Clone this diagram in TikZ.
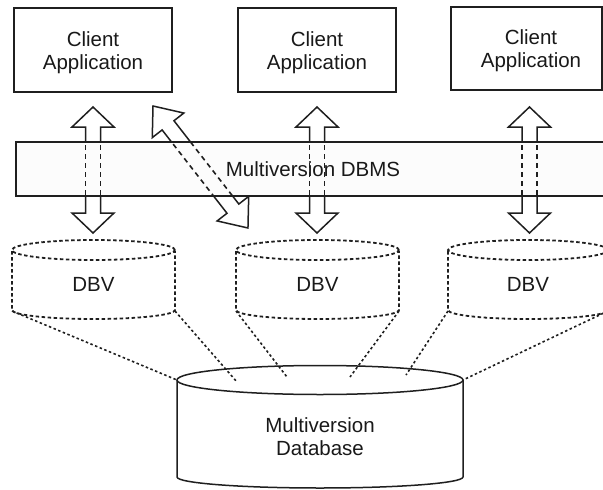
\documentclass[tikz,border=0pt]{standalone}
\usepackage{fontspec}
\setmainfont{Liberation Sans}
\tikzset{
  lw/.style={line width=1.5pt, draw=black!88},
  appbox/.style={lw, rectangle, fill=white, inner sep=0pt},
  lbl/.style={font=\fontsize{20.5}{23}\selectfont, align=center, text=black!90, inner sep=0pt},
  dbvline/.style={line width=1.8pt, draw=black!88, dash pattern=on 3.5pt off 2.5pt},
  linkline/.style={line width=1.6pt, draw=black!88, dash pattern=on 2.5pt off 2.5pt},
  hiddenline/.style={line width=1.6pt, draw=black!88, dash pattern=on 5pt off 4pt},
  pics/dblarrow/.style n args={4}{code={
    \draw[lw, fill=white] (0,0) -- (#3,#2) -- (#4,#2) -- (#4,#1-#2) -- (#3,#1-#2) -- (0,#1)
      -- (-#3,#1-#2) -- (-#4,#1-#2) -- (-#4,#2) -- (-#3,#2) -- cycle;
  }},
  pics/dblshaft/.style n args={4}{code={
    \draw[hiddenline] (#4,#2) -- (#4,#1-#2);
    \draw[hiddenline] (-#4,#2) -- (-#4,#1-#2);
  }},
}
\begin{document}
\begin{tikzpicture}[x=1pt,y=-1pt]
\useasboundingbox (0,0) rectangle (603,490);
\clip (0,0) rectangle (603,490);

% big cylinder
\draw[lw, fill=white] (177,380) -- (177,477) arc[start angle=180, end angle=360, x radius=143pt, y radius=11pt] -- (463,380);
\draw[lw] (320,380) ellipse[x radius=143pt, y radius=14.5pt];
\node[lbl] (mdb) at (320,437) {Multiversion\\Database};
\coordinate (mL) at (177,380);
\coordinate (mR) at (463,380);
\coordinate (m2) at (237,382);
\coordinate (m3) at (287,377);
\coordinate (m4) at (350,377);
\coordinate (m5) at (406,375);

% DBV cylinders
\draw[dbvline] (93.5,250) ellipse[x radius=81.5pt, y radius=10pt];
\draw[dbvline] (12,251) -- (12,310) arc[start angle=180, end angle=360, x radius=81.5pt, y radius=9pt] -- (175,251);
\node[lbl] (dbv1) at (93.5,284.6) {DBV};
\coordinate (d1l) at (12,311);
\coordinate (d1r) at (175,311);

\draw[dbvline] (317.5,250) ellipse[x radius=81.5pt, y radius=10pt];
\draw[dbvline] (236,251) -- (236,310) arc[start angle=180, end angle=360, x radius=81.5pt, y radius=9pt] -- (399,251);
\node[lbl] (dbv2) at (317.5,284.6) {DBV};
\coordinate (d2l) at (236,311);
\coordinate (d2r) at (399,311);

\draw[dbvline] (528,250) ellipse[x radius=80pt, y radius=10pt];
\draw[dbvline] (448,251) -- (448,310) arc[start angle=180, end angle=360, x radius=80pt, y radius=9pt] -- (608,251);
\node[lbl] (dbv3) at (528,284.6) {DBV};
\coordinate (d3l) at (448,311);
\coordinate (d3r) at (608,311);

% links
\draw[linkline] (d1l) -- (mL);
\draw[linkline] (d1r) -- (m2);
\draw[linkline] (d2l) -- (m3);
\draw[linkline] (d2r) -- (m4);
\draw[linkline] (d3l) -- (m5);
\draw[linkline] (d3r) -- (mR);

% block arrows
\pic at (93,107) {dblarrow={126}{20}{21}{7.5}};
\pic at (317,107) {dblarrow={126}{20}{21}{7.5}};
\pic at (529.5,107) {dblarrow={126}{20}{21}{7.5}};
\pic[rotate=37.9] at (153,106) {dblarrow={154.6}{24.5}{20}{7.5}};

% DBMS band
\node[lw, rectangle, fill=white!99!black, minimum width=594pt, minimum height=54pt, inner sep=0pt] (dbms) at (313,169) {};
\node[lbl] (dbmst) at (313,169.5) {Multiversion DBMS};

\begin{scope}
\clip (dbms.north west) rectangle (dbms.south east);
\pic at (93,107) {dblshaft={126}{20}{21}{7.5}};
\pic at (317,107) {dblshaft={126}{20}{21}{7.5}};
\pic at (529.5,107) {dblshaft={126}{20}{21}{7.5}};
\pic[rotate=37.9] at (153,106) {dblshaft={154.6}{24.5}{20}{7.5}};
\end{scope}

% client boxes
\node[appbox, minimum width=158pt, minimum height=84pt] (c1) at (93,50) {};
\node[lbl] (c1t) at (93,52.8) {Client\\Application};
\node[appbox, minimum width=158pt, minimum height=84pt] (c2) at (317,50) {};
\node[lbl] (c2t) at (317,52.8) {Client\\Application};
\node[appbox, minimum width=151pt, minimum height=83pt] (c3) at (526.5,48.5) {};
\node[lbl] (c3t) at (531,50.8) {Client\\Application};
\end{tikzpicture}
\end{document}
